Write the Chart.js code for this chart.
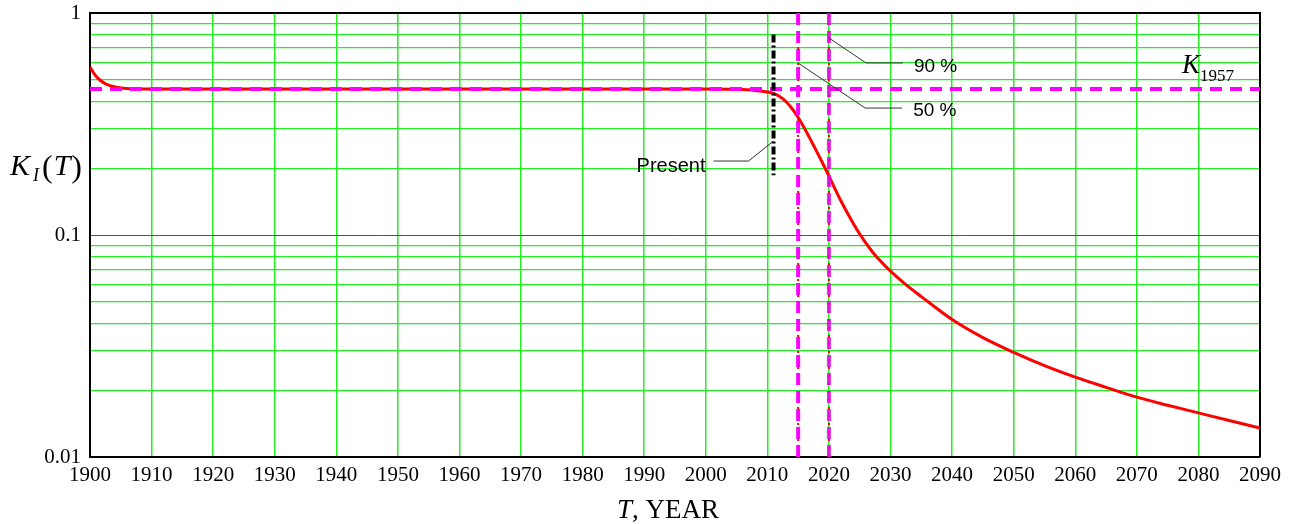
<!DOCTYPE html>
<html>
<head>
<meta charset="utf-8">
<script src="https://cdn.jsdelivr.net/npm/chart.js"></script>
<style>
  body { margin: 0; background: #fff; }
  #wrap { width: 1300px; height: 524px; position: relative; }
</style>
</head>
<body>
<div id="wrap"><canvas id="grafico"></canvas></div>
<script>
// dados
const anos = [1900, 1900.8, 1901.6, 1902.7, 1904.3, 1906.5, 1910, 1950, 2000, 2005, 2008, 2010,
              2011, 2012, 2013, 2014, 2015, 2016, 2017, 2018, 2019, 2020, 2021, 2022, 2023, 2024, 2025,
              2026, 2027, 2028, 2029, 2030, 2032, 2035, 2040, 2045, 2050, 2055, 2060, 2065, 2070, 2075, 2080, 2085, 2090];
const valoresKI = [0.571, 0.526, 0.499, 0.477, 0.463, 0.456, 0.455, 0.455, 0.455, 0.453, 0.448, 0.4406,
                   0.4339, 0.4206, 0.3994, 0.3714, 0.3383, 0.3034, 0.2693, 0.2382, 0.2099, 0.1844, 0.1611, 0.1415, 0.1256, 0.1121, 0.101,
                   0.092, 0.0843, 0.0783, 0.0732, 0.0688, 0.0614, 0.0528, 0.0416, 0.0345, 0.0296, 0.0258, 0.0229, 0.0206, 0.0186, 0.0171, 0.0158, 0.0146, 0.0135];

const K1957 = 0.455;
const anoPresente = 2011;
const presenteFaixa = [0.8, 0.186];
const ano50 = 2015;
const ano90 = 2020;

const ticksY = [0.01, 0.02, 0.03, 0.04, 0.05, 0.06, 0.07, 0.08, 0.09, 0.1, 0.2, 0.3, 0.4, 0.5, 0.6, 0.7, 0.8, 0.9, 1];
const rotulosY = { 0.01: '0.01', 0.1: '0.1', 1: '1' };

const VERDE = '#22ee22';
const SERIF = '"Liberation Serif", "Times New Roman", serif';
const SANS = '"Liberation Sans", Arial, sans-serif';

// Plugin para títulos dos eixos e anotações
const anotacoes = {
    id: 'anotacoes',
    beforeDatasetsDraw(chart) {
        // bordas superior/direita em preto
        const ctx = chart.ctx, a = chart.chartArea;
        ctx.save();
        ctx.strokeStyle = '#000';
        ctx.lineWidth = 2;
        ctx.beginPath();
        ctx.moveTo(a.left, a.top); ctx.lineTo(a.right, a.top); ctx.lineTo(a.right, a.bottom);
        ctx.stroke();
        ctx.restore();
    },
    afterDraw(chart) {
        const ctx = chart.ctx;
        const x = chart.scales.x, y = chart.scales.y;
        ctx.save();
        ctx.fillStyle = '#000';
        ctx.textBaseline = 'alphabetic';

        // título do eixo y: K_I(T)
        let px = 10;
        ctx.font = 'italic 30px ' + SERIF;
        ctx.fillText('K', px, 175); px += ctx.measureText('K').width + 3;
        ctx.font = 'italic 18px ' + SERIF;
        ctx.fillText('I', px, 181); px += ctx.measureText('I').width + 3;
        ctx.font = '32px ' + SERIF;
        ctx.fillText('(', px, 177); px += ctx.measureText('(').width + 1;
        ctx.font = 'italic 30px ' + SERIF;
        ctx.fillText('T', px, 175); px += ctx.measureText('T').width + 1;
        ctx.font = '32px ' + SERIF;
        ctx.fillText(')', px, 177);

        // título do eixo x: T, YEAR
        px = 617;
        ctx.font = 'italic 27px ' + SERIF;
        ctx.fillText('T', px, 518); px += ctx.measureText('T').width;
        ctx.font = '27px ' + SERIF;
        ctx.fillText(', YEAR', px, 518);

        // rótulo K1957
        const yk = y.getPixelForValue(K1957);
        ctx.font = 'italic 27px ' + SERIF;
        ctx.fillText('K', 1182, yk - 16);
        ctx.font = '17px ' + SERIF;
        ctx.fillText('1957', 1200, yk - 8);

        // linhas de chamada
        ctx.strokeStyle = '#333';
        ctx.lineWidth = 1;
        const xp = x.getPixelForValue(anoPresente), yp = y.getPixelForValue(0.265);
        ctx.beginPath();
        ctx.moveTo(xp, yp); ctx.lineTo(xp - 25, yp + 20); ctx.lineTo(xp - 60, yp + 20);
        ctx.stroke();
        const x90 = x.getPixelForValue(ano90), y90 = y.getPixelForValue(0.772);
        ctx.beginPath();
        ctx.moveTo(x90, y90); ctx.lineTo(x90 + 37, y90 + 25); ctx.lineTo(x90 + 74, y90 + 25);
        ctx.stroke();
        const x50 = x.getPixelForValue(ano50), y50 = y.getPixelForValue(0.595);
        ctx.beginPath();
        ctx.moveTo(x50, y50); ctx.lineTo(x50 + 67, y50 + 45); ctx.lineTo(x50 + 104, y50 + 45);
        ctx.stroke();

        ctx.font = '20px ' + SANS;
        ctx.textAlign = 'right';
        ctx.fillText('Present', xp - 68, yp + 31);
        ctx.textAlign = 'left';
        ctx.font = '19px ' + SANS;
        ctx.fillText('90 %', x90 + 85, y90 + 34);
        ctx.fillText('50 %', x50 + 115, y50 + 53);
        ctx.restore();
    }
};

function linhaVertical(ano, cor, largura, tracos) {
    return {
        data: [{ x: ano, y: 0.01 }, { x: ano, y: 1.035 }],
        borderColor: cor, borderWidth: largura, borderDash: tracos,
        pointRadius: 0, clip: false, order: 0
    };
}

new Chart(document.getElementById('grafico'), {
    type: 'line',
    data: {
        datasets: [
            linhaVertical(ano90, 'rgba(235,0,235,0.85)', 4, [12, 6]),
            linhaVertical(ano90, '#ff0000', 2, [2, 6]),
            linhaVertical(ano50, '#ff00ff', 4, [12, 6]),
            linhaVertical(ano50, '#ff0000', 2, [2, 6]),
            {
                data: [{ x: anoPresente, y: presenteFaixa[0] }, { x: anoPresente, y: presenteFaixa[1] }],
                borderColor: '#000', borderWidth: 4, borderDash: [8, 3, 2, 3],
                pointRadius: 0, order: 1
            },
            {
                data: [{ x: 1900, y: K1957 }, { x: 2090, y: K1957 }],
                borderColor: '#ff00ff', borderWidth: 4, borderDash: [12, 8],
                pointRadius: 0, order: 2
            },
            {
                data: anos.map((a, i) => ({ x: a, y: valoresKI[i] })),
                borderColor: '#ff0000', borderWidth: 3,
                cubicInterpolationMode: 'monotone',
                pointRadius: 0, order: 3
            }
        ]
    },
    options: {
        responsive: true,
        maintainAspectRatio: false,
        animation: false,
        layout: { padding: { top: 13, right: 40, left: 0, bottom: 0 } },
        plugins: { legend: { display: false }, tooltip: { enabled: false } },
        scales: {
            x: {
                type: 'linear', min: 1900, max: 2090,
                afterFit: s => { s.height = 67; s.paddingRight = 0; s.paddingLeft = 0; },
                ticks: { stepSize: 10, color: '#000', padding: 6, maxRotation: 0,
                         font: { family: SERIF, size: 21 }, callback: v => String(v) },
                grid: { drawTicks: false, color: VERDE, lineWidth: 1.5 },
                border: { display: true, color: '#000', width: 2 }
            },
            y: {
                type: 'logarithmic', min: 0.01, max: 1,
                afterFit: s => { s.width = 90; s.paddingTop = 0; s.paddingBottom = 0; },
                afterBuildTicks: s => { s.ticks = ticksY.map(v => ({ value: v })); },
                ticks: { color: '#000', padding: 9, autoSkip: false,
                         font: { family: SERIF, size: 21 },
                         callback: v => rotulosY[v] || '' },
                grid: {
                    drawTicks: false,
                    color: c => (c.tick && c.tick.value === 0.1) ? '#555' : VERDE,
                    lineWidth: c => (c.tick && c.tick.value === 0.1) ? 1 : 1.2
                },
                border: { display: true, color: '#000', width: 2 }
            }
        }
    },
    plugins: [anotacoes]
});
</script>
</body>
</html>
